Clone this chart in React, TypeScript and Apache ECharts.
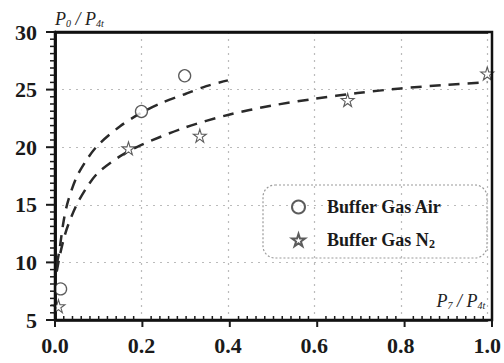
import React, { useEffect, useRef } from "react";
import * as echarts from "echarts";

// Measured points
const airX = [0.013, 0.2, 0.3];
const airY = [7.7, 23.1, 26.2];
const n2X = [0.008, 0.17, 0.335, 0.677, 1.0];
const n2Y = [6.2, 19.9, 21.0, 24.1, 26.4];

// Fitted curves
const fitAirX = [0.004, 0.01, 0.02, 0.03, 0.05, 0.075, 0.1, 0.15, 0.2, 0.25, 0.3, 0.35, 0.4];
const fitAirY = [9.8, 11.0, 13.6, 15.3, 17.4, 19.0, 20.2, 21.8, 23.0, 23.9, 24.6, 25.3, 25.8];
const fitN2X = [0.004, 0.01, 0.02, 0.03, 0.05, 0.075, 0.1, 0.15, 0.2, 0.3, 0.4, 0.5, 0.6, 0.7, 0.8, 0.9, 1.0];
const fitN2Y = [9.2, 10.4, 12.0, 13.2, 15.0, 16.6, 17.8, 19.2, 20.2, 21.7, 22.8, 23.6, 24.2, 24.7, 25.1, 25.4, 25.65];

// Axis ticks
const xTicks = [0, 0.2, 0.4, 0.6, 0.8, 1.0];
const yTicks = [5, 10, 15, 20, 25, 30];
const xMinorPerMajor = 10;
const yMinorPerMajor = 8;

const STAR = "path://M50,0 L61,35 L98,35 L68,57 L79,91 L50,70 L21,91 L32,57 L2,35 L39,35 Z";
const SERIF = "'Liberation Serif', 'Times New Roman', serif";

const W = 504;
const H = 363;
const GRID = { left: 55, right: 12, top: 32, bottom: 43 };

const zip = (a: number[], b: number[]) => a.map((v, i) => [v, b[i]]);

function minorTicks(major: number[], n: number) {
  const out: number[] = [];
  for (let i = 0; i < major.length - 1; i++) {
    const step = (major[i + 1] - major[i]) / n;
    for (let k = 1; k < n; k++) out.push(major[i] + step * k);
  }
  return out;
}

export default function App() {
  const ref = useRef<HTMLDivElement>(null);
  useEffect(() => {
    if (!ref.current) return;
    const chart = echarts.init(ref.current, undefined, { renderer: "svg" });
    const labelStyle = { fontFamily: SERIF, fontWeight: "bold" as const, fontSize: 22, color: "#1a1a1a" };
    const titleRich = {
      p: { fontFamily: SERIF, fontStyle: "italic" as const, fontSize: 18, color: "#222" },
      s: { fontFamily: SERIF, fontStyle: "italic" as const, fontSize: 10, color: "#222", padding: [8, 0, 0, 0] },
    };
    const xMin = xTicks[0];
    const xMax = xTicks[xTicks.length - 1];
    const yMin = yTicks[0];
    const yMax = yTicks[yTicks.length - 1];

    // linear mapping matching the grid's value axes (for frame and tick decorations)
    const x0 = GRID.left;
    const x1 = W - GRID.right;
    const y0 = H - GRID.bottom;
    const y1 = GRID.top;
    const sx = (v: number) => x0 + ((v - xMin) / (xMax - xMin)) * (x1 - x0);
    const sy = (v: number) => y0 - ((v - yMin) / (yMax - yMin)) * (y0 - y1);

    const elements: any[] = [
      {
        type: "rect",
        z: 0,
        shape: { x: 263, y: 185, width: 224, height: 73, r: 12 },
        style: { fill: "none", stroke: "#999", lineWidth: 1.2, lineDash: [2, 2] },
      },
      {
        type: "rect",
        z: 10,
        shape: { x: sx(xMin), y: sy(yMax), width: sx(xMax) - sx(xMin), height: sy(yMin) - sy(yMax) },
        style: { fill: "none", stroke: "#111", lineWidth: 2.5 },
      },
    ];
    const tick = (xa: number, ya: number, xb: number, yb: number, w: number) => ({
      type: "line",
      z: 10,
      shape: { x1: xa, y1: ya, x2: xb, y2: yb },
      style: { stroke: "#1a1a1a", lineWidth: w },
    });
    xTicks.forEach((v) => elements.push(tick(sx(v), y0, sx(v), y0 + 7, 2)));
    minorTicks(xTicks, xMinorPerMajor).forEach((v) => elements.push(tick(sx(v), y0, sx(v), y0 - 4, 1.5)));
    yTicks.forEach((v) => elements.push(tick(x0, sy(v), x0 - 9, sy(v), 2)));
    minorTicks(yTicks, yMinorPerMajor).forEach((v) => elements.push(tick(x0, sy(v), x0 - 5, sy(v), 1.5)));

    const frameAxis = {
      type: "value",
      axisLine: { show: true, lineStyle: { color: "#111", width: 2.5 } },
      axisTick: { show: false },
      minorTick: { show: false },
      axisLabel: { show: false },
      splitLine: { show: false },
    };

    chart.setOption({
      animation: false,
      backgroundColor: "#fff",
      grid: { ...GRID },
      xAxis: [
        {
          type: "value",
          position: "bottom",
          min: xMin,
          max: xMax,
          interval: 0.2,
          name: "{p|P}{s|7}{p| / P}{s|4t}",
          nameLocation: "end",
          nameGap: -2,
          nameTextStyle: { align: "right", verticalAlign: "bottom", padding: [0, 0, 10, 0], rich: titleRich },
          axisLine: { show: true, onZero: false, lineStyle: { color: "#111", width: 2.5 } },
          axisTick: { show: false },
          minorTick: { show: false },
          axisLabel: { ...labelStyle, margin: 14, formatter: (v: number) => v.toFixed(1) },
          splitLine: { show: true, lineStyle: { color: "#bbb", type: [2, 5], width: 1.2 } },
        },
        { ...frameAxis, position: "top", min: xMin, max: xMax },
      ],
      yAxis: [
        {
          type: "value",
          position: "left",
          min: yMin,
          max: yMax,
          interval: 5,
          name: "{p|P}{s|0}{p| / P}{s|4t}",
          nameLocation: "end",
          nameGap: 4,
          nameTextStyle: { align: "left", rich: titleRich },
          axisLine: { show: true, onZero: false, lineStyle: { color: "#111", width: 2.5 } },
          axisTick: { show: false },
          minorTick: { show: false },
          axisLabel: { ...labelStyle, margin: 18 },
          splitLine: { show: true, lineStyle: { color: "#bbb", type: [2, 5], width: 1.2 } },
        },
        { ...frameAxis, position: "right", min: yMin, max: yMax },
      ],
      legend: {
        data: ["Buffer Gas Air", "Buffer Gas N2"],
        orient: "vertical",
        left: 286,
        top: 192,
        itemWidth: 13,
        itemHeight: 13,
        itemGap: 13,
        formatter: (name: string) =>
          name === "Buffer Gas N2" ? "{t|Buffer Gas N}{s|2}" : "{t|Buffer Gas Air}",
        textStyle: {
          padding: [0, 0, 0, 17],
          lineHeight: 20,
          rich: {
            t: { fontFamily: SERIF, fontWeight: "bold", fontSize: 18, color: "#1a1a1a", lineHeight: 20 },
            s: { fontFamily: SERIF, fontWeight: "bold", fontSize: 12, color: "#1a1a1a", padding: [8, 0, 0, 0] },
          },
        },
      },
      graphic: elements,
      series: [
        {
          name: "fitAir",
          type: "line",
          data: zip(fitAirX, fitAirY),
          smooth: 0.3,
          showSymbol: false,
          lineStyle: { color: "#2a2a2a", width: 2.5, type: [11, 8] },
          z: 2,
        },
        {
          name: "fitN2",
          type: "line",
          data: zip(fitN2X, fitN2Y),
          smooth: 0.3,
          showSymbol: false,
          lineStyle: { color: "#2a2a2a", width: 2.5, type: [11, 8] },
          z: 2,
        },
        {
          name: "Buffer Gas Air",
          type: "scatter",
          data: zip(airX, airY),
          symbol: "circle",
          symbolSize: 12,
          itemStyle: { color: "#fff", borderColor: "#333", borderWidth: 1.3 },
          z: 3,
        },
        {
          name: "Buffer Gas N2",
          type: "scatter",
          data: zip(n2X, n2Y),
          symbol: STAR,
          symbolSize: 13,
          itemStyle: { color: "#fff", borderColor: "#333", borderWidth: 1.1 },
          z: 3,
        },
      ],
    });

    return () => chart.dispose();
  }, []);
  return <div ref={ref} style={{ width: W, height: H, position: "absolute", left: 0, top: 0 }} />;
}
